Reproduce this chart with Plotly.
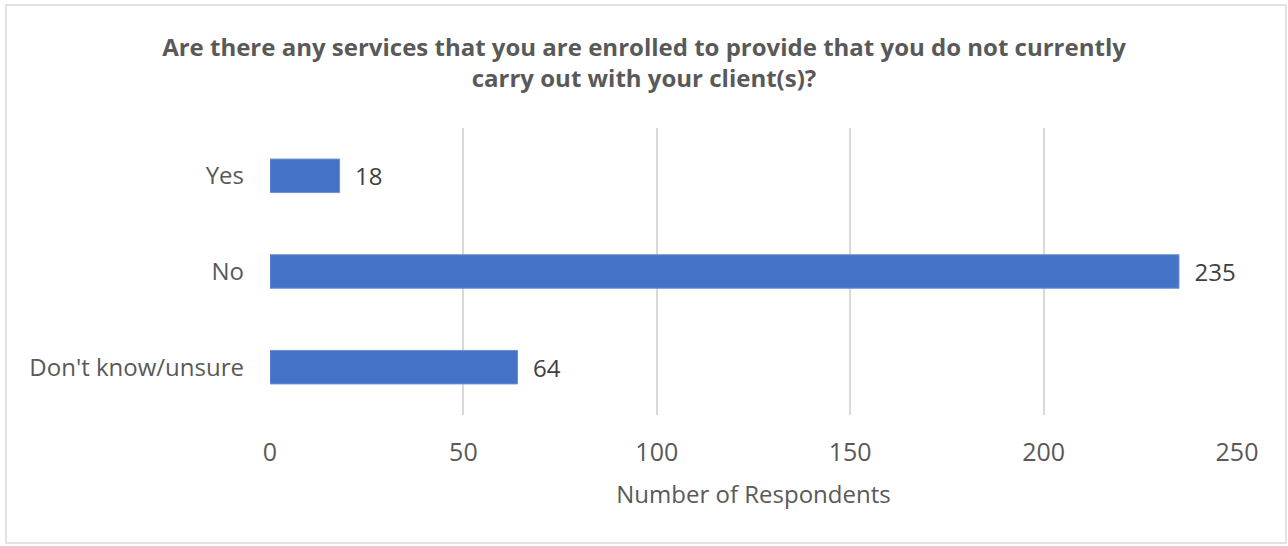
import plotly.graph_objects as go

categories = ["Yes", "No", "Don't know/unsure"]
values = [18, 235, 64]
x_ticks = [0, 50, 100, 150, 200, 250]

title_text = "Are there any services that you are enrolled to provide that you do not currently<br>carry out with your client(s)?"

fig = go.Figure(go.Bar(
    y=categories, x=values, orientation="h",
    marker=dict(color="#4472C4", line=dict(color="#6A8FD6", width=1)),
    width=0.35,
    text=["  " + str(v) for v in values], textposition="outside",
    textfont=dict(family="Open Sans", size=24, color="#404040"),
    cliponaxis=False,
))

W, H = 1288, 546
L, R, T, B = 270, 1237, 128, 415
pw, ph = R - L, B - T

fig.update_layout(
    width=W, height=H,
    margin=dict(l=L, r=W - R, t=T, b=H - B),
    paper_bgcolor="white", plot_bgcolor="white",
    showlegend=False,
    title=dict(text=title_text, x=0.5, xanchor="center", y=1 - 56 / H, yanchor="middle",
               font=dict(family="Open Sans", size=24, color="#595959", weight="bold")),
    xaxis=dict(range=[0, 250], tickvals=x_ticks, showgrid=True, gridcolor="#D9D9D9", gridwidth=1.5,
               zeroline=False, showline=False, ticks="", ticklabelstandoff=20,
               tickfont=dict(family="Open Sans", size=25, color="#595959"),
               title=dict(text="Number of Respondents", standoff=19,
                          font=dict(family="Open Sans", size=24, color="#595959"))),
    yaxis=dict(categoryorder="array", categoryarray=categories[::-1], autorange=True,
               showgrid=False, zeroline=False, showline=False, ticks="", ticklabelstandoff=25,
               tickfont=dict(family="Open Sans", size=24, color="#595959")),
    shapes=[dict(type="rect", xref="paper", yref="paper",
                 x0=(6 - L) / pw, x1=(1286 - L) / pw, y0=(B - 543) / ph, y1=(B - 5) / ph,
                 line=dict(color="#D9D9D9", width=1.5), layer="below")],
)

fig.write_html("out.html")
